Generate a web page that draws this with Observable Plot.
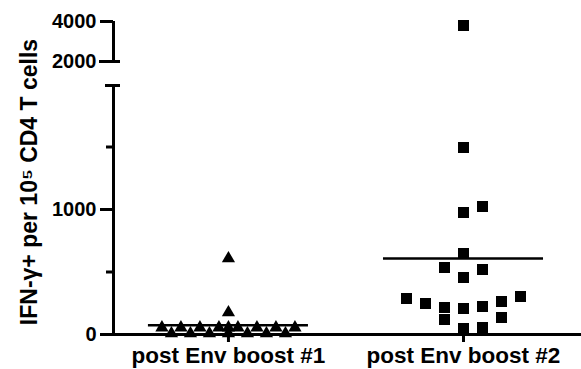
<!DOCTYPE html>
<html>
<head>
<meta charset="utf-8">
<script src="https://cdn.jsdelivr.net/npm/d3@7"></script>
<script src="https://cdn.jsdelivr.net/npm/@observablehq/plot@0.6"></script>
<style>
  html, body { margin: 0; padding: 0; background: #fff; }
</style>
</head>
<body>
<div id="chart"></div>
<script>
// ---- data ----
const categories = ["post Env boost #1", "post Env boost #2"];
// IFN-γ+ per 10^5 CD4 T cells, one value per animal
const boost1Values = [608, 176, 55, 55, 55, 55, 55, 55, 55, 55, 55, 8, 8, 8, 8, 8, 8, 8];
// column slot of each point within its group (half-slots)
const boost1Slots  = [0, 0, 0, -7, -5, -3, -1, 1, 3, 5, 7, -6, -4, -2, 0, 2, 4, 6];
const boost2Values = [3800, 1496, 1024, 976, 648, 536, 520, 456, 304, 288, 264, 248, 224, 216, 208, 136, 120, 56, 48];
const boost2Slots  = [0, 0, 2, 0, 0, -2, 2, 0, 6, -6, 4, -4, 2, -2, 0, 4, -2, 2, 0];
const yTickValues = [0, 1000, 2000, 4000];
const yMinorTicks = [500, 1500];
const yLabel = "IFN-γ+ per 10⁵ CD4 T cells";

// ---- chart ----
const W = 581, H = 369;
const xDomain = [-0.489, 1.502];
const pxPerUnit = 235;            // x scale: pixels per category step
const u = px => px / pxPerUnit;   // pixel length -> x units
const halfSlot = u(9.5);
const axisX = xDomain[0];
const breakLow = 1992, breakHigh = 2000, yTop = 4000;

const pts = [
  ...boost1Values.map((v, i) => ({group: 0, value: v, slot: boost1Slots[i]})),
  ...boost2Values.map((v, i) => ({group: 1, value: v, slot: boost2Slots[i]}))
];
const means = [0, 1].map(g => ({group: g, mean: d3.mean(pts.filter(d => d.group === g), d => d.value)}));

const font = "'Liberation Sans', Arial, Helvetica, sans-serif";

const chart = Plot.plot({
  width: W,
  height: H,
  marginLeft: 113,
  marginRight: 0,
  marginTop: 21,
  marginBottom: 35,
  style: {fontFamily: font, background: "white", color: "black"},
  x: {type: "linear", domain: xDomain, axis: null},
  y: {type: "linear", domain: [0, breakLow, breakHigh, yTop], range: [334, 85, 61, 21], axis: null},
  marks: [
    // y axis segments (broken)
    Plot.ruleX([{y1: 0, y2: breakLow}, {y1: breakHigh, y2: yTop}], {x: () => axisX, y1: "y1", y2: "y2", strokeWidth: 3, stroke: "black"}),
    // caps at the break
    Plot.ruleY([breakLow], {x1: axisX - u(8), x2: axisX + u(7), strokeWidth: 3, stroke: "black"}),
    Plot.ruleY([breakHigh], {x1: axisX - u(14), x2: axisX + u(7), strokeWidth: 3, stroke: "black"}),
    // major ticks
    Plot.ruleY(yTickValues.filter(d => d !== breakHigh), {x1: axisX - u(13), x2: axisX, strokeWidth: 3, stroke: "black"}),
    // minor ticks
    Plot.ruleY(yMinorTicks, {x1: axisX - u(7), x2: axisX, strokeWidth: 3, stroke: "black"}),
    // tick labels
    Plot.text(yTickValues, {x: () => axisX, y: d => d, text: d => String(d), textAnchor: "end", dx: -17, fontSize: 20, fontWeight: "bold", fill: "black"}),
    // x axis baseline and category ticks
    Plot.ruleY([0], {strokeWidth: 3, stroke: "black"}),
    Plot.ruleX([0, 1], {y1: 0, y2: -64, strokeWidth: 3, stroke: "black"}),
    Plot.text(categories, {x: (d, i) => i, y: () => 0, text: d => d, lineAnchor: "top", dy: 13, fontSize: 22.5, fontWeight: "bold", fill: "black"}),
    // y label
    Plot.text([yLabel], {frameAnchor: "left", text: d => d, rotate: -90, textAnchor: "middle", lineAnchor: "middle", dx: -84, dy: 4, fontSize: 23, fontWeight: "bold", fill: "black"}),
    // points
    Plot.dot(pts.filter(d => d.group === 0), {x: d => d.group + d.slot * halfSlot, y: "value", symbol: "triangle", r: 4.9, fill: "black", stroke: "none"}),
    Plot.dot(pts.filter(d => d.group === 1), {x: d => d.group + d.slot * halfSlot, y: "value", symbol: "square", r: 6.2, fill: "black", stroke: "none"}),
    // mean lines
    Plot.ruleY(means, {y: "mean", x1: d => d.group - u(80), x2: d => d.group + u(80), strokeWidth: 2.5, stroke: "black"})
  ]
});
document.getElementById("chart").appendChild(chart);
</script>
</body>
</html>
